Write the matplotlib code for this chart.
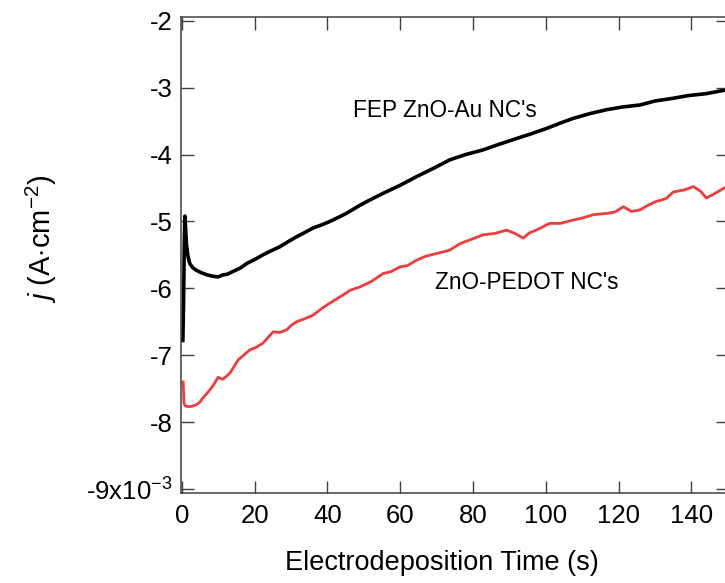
import matplotlib
matplotlib.use("Agg")
import matplotlib.pyplot as plt

plt.rcParams['font.family'] = ['Liberation Sans', 'DejaVu Sans']
plt.rcParams['mathtext.fontset'] = 'custom'
plt.rcParams['mathtext.rm'] = 'Liberation Sans'
plt.rcParams['mathtext.it'] = 'Liberation Sans:italic'
plt.rcParams['axes.unicode_minus'] = False

# time (s) and current density (x10^-3 A cm^-2)
t_au = [0.3, 0.5, 0.7, 0.85, 1.0, 1.3, 1.7, 2.2, 3.0, 4.0, 5.5, 7.0, 8.6, 10.0, 11.3,
        12.5, 14.0, 16.0, 17.8, 20.0, 22.3, 24.5, 26.9, 29.0, 31.5, 34.0, 36.0, 38.5,
        40.7, 43.0, 45.2, 48.9, 52.0, 55.3, 60.0, 64.5, 69.0, 73.6, 78.0, 82.8, 87.0,
        92.0, 96.0, 100.2, 104.0, 107.5, 112.0, 116.7, 121.0, 125.8, 130.0, 134.9,
        139.0, 144.1, 147.0, 150.0]
j_au = [-6.78, -6.2, -5.3, -4.92, -5.05, -5.35, -5.52, -5.63, -5.69, -5.73, -5.77,
        -5.80, -5.82, -5.83, -5.80, -5.79, -5.75, -5.70, -5.63, -5.57, -5.50, -5.44,
        -5.38, -5.31, -5.23, -5.16, -5.10, -5.05, -5.00, -4.94, -4.88, -4.76, -4.67,
        -4.58, -4.46, -4.33, -4.21, -4.08, -4.00, -3.93, -3.85, -3.76, -3.69, -3.61,
        -3.53, -3.46, -3.39, -3.33, -3.29, -3.26, -3.20, -3.16, -3.12, -3.09, -3.06,
        -3.03]

t_pedot = [0.4, 0.6, 1.0, 2.2, 3.0, 4.0, 5.0, 5.8, 7.7, 9.0, 10.0, 11.3, 13.2, 15.5,
           17.0, 18.7, 20.5, 22.3, 25.1, 27.0, 28.8, 30.2, 31.5, 34.0, 36.1, 38.5,
           40.7, 42.5, 44.3, 46.2, 48.9, 52.0, 55.3, 57.5, 59.9, 62.0, 64.5, 67.0,
           70.0, 73.6, 76.5, 79.0, 82.8, 86.0, 89.2, 91.5, 93.8, 95.5, 97.4, 101.0,
           104.0, 107.5, 110.0, 113.0, 116.7, 119.0, 121.3, 123.5, 125.8, 128.0, 130.4,
           133.0, 135.0, 138.0, 140.5, 142.5, 144.1, 146.5, 149.0, 150.0]
j_pedot = [-7.40, -7.72, -7.76, -7.77, -7.76, -7.74, -7.70, -7.64, -7.52, -7.42,
           -7.33, -7.36, -7.27, -7.07, -7.00, -6.92, -6.88, -6.82, -6.65, -6.66, -6.62,
           -6.55, -6.50, -6.45, -6.40, -6.30, -6.22, -6.16, -6.10, -6.03, -5.98, -5.90,
           -5.78, -5.75, -5.68, -5.66, -5.58, -5.52, -5.48, -5.43, -5.33, -5.28, -5.20,
           -5.18, -5.13, -5.18, -5.25, -5.17, -5.13, -5.03, -5.03, -4.98, -4.95, -4.90,
           -4.88, -4.86, -4.78, -4.85, -4.83, -4.76, -4.70, -4.66, -4.56, -4.53, -4.48,
           -4.55, -4.65, -4.58, -4.50, -4.52]

y_ticks = [-2, -3, -4, -5, -6, -7, -8, -9]
y_labels = ['-2', '-3', '-4', '-5', '-6', '-7', '-8', r'-9x10$^{\mathrm{-3}}$']
x_ticks = [0, 20, 40, 60, 80, 100, 120, 140]

fig = plt.figure(figsize=(7.25, 5.83), dpi=100)
ax = fig.add_axes([0.2492, 0.1549, 0.7548, 0.8159])

ax.plot(t_au, j_au, color='black', lw=2.6)
ax.plot(t_pedot, j_pedot, color='#f03c3c', lw=2.0)

ax.set_xlim(-0.3, 150)
ax.set_ylim(-9.055, -1.945)
ax.set_xticks(x_ticks)
ax.set_yticks(y_ticks)
ax.set_yticklabels(y_labels)

for s in ax.spines.values():
    s.set_color('#404040')
    s.set_linewidth(1.1)
ax.tick_params(direction='in', length=9, width=1.0, color='#404040',
               top=True, right=True, labelsize=18.5)
ax.tick_params(axis='y', pad=6)
ax.tick_params(axis='x', pad=8)

ax.text(0.3140, 0.8030, "FEP ZnO-Au NC's", transform=ax.transAxes, fontsize=16.3,
        ha='left', va='center')
ax.text(0.4640, 0.4410, "ZnO-PEDOT NC's", transform=ax.transAxes, fontsize=16.3,
        ha='left', va='center')

fig.text(0.6097, 0.035, 'Electrodeposition Time (s)', fontsize=19.5,
         ha='center', va='center')
fig.text(0.057, 0.59, r'$j$ (A$\cdot$cm$^{\mathrm{-2}}$)', fontsize=21,
         rotation=90, ha='center', va='center')

fig.savefig('out.png', dpi=100)
